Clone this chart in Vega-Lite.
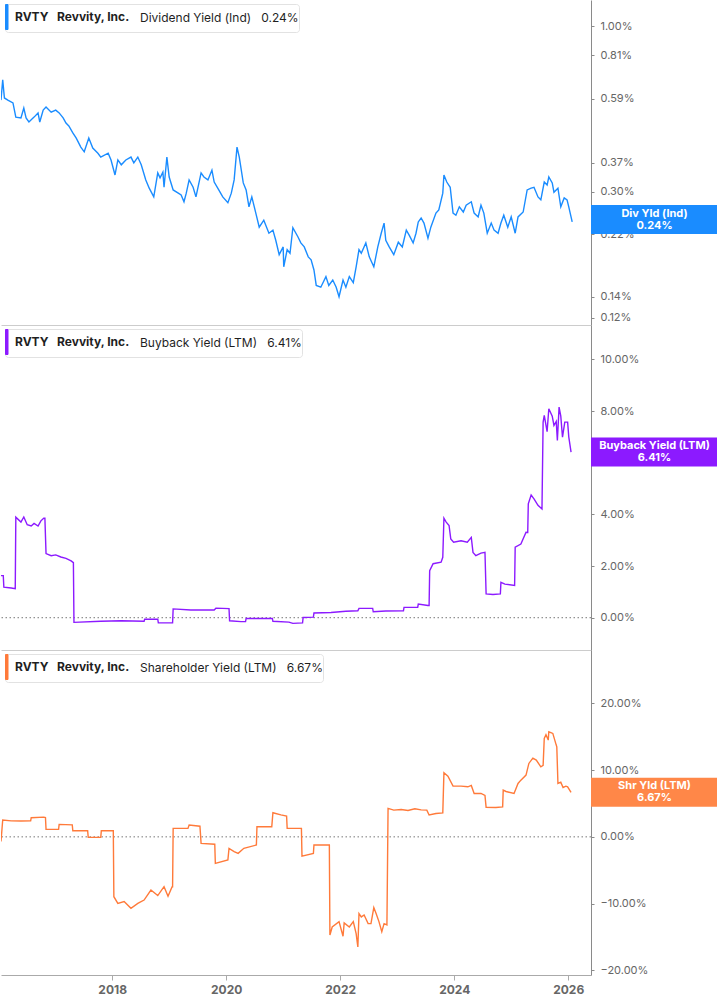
{
  "$schema": "https://vega.github.io/schema/vega-lite/v6.json",
  "padding": 0,
  "spacing": 0,
  "background": "white",
  "config": {
    "font": "Inter",
    "view": {"stroke": null},
    "axis": {"grid": false, "title": null},
    "legend": {
      "orient": "top-left",
      "offset": 4,
      "padding": 0,
      "titleOrient": "right",
      "titlePadding": 10,
      "titleFontSize": 12,
      "titleFontWeight": "normal",
      "titleColor": "#1f1f1f",
      "titleBaseline": "middle",
      "titleLimit": 400,
      "labelFontSize": 12,
      "labelFontWeight": "bold",
      "labelColor": "#1f1f1f",
      "labelLimit": 400,
      "labelOffset": -16,
      "symbolType": "M-1,-1L-0.8,-1L-0.8,1L-1,1Z",
      "symbolSize": 625,
      "symbolStrokeWidth": 1,
      "strokeColor": "#e2e2e2",
      "fillColor": "white",
      "cornerRadius": 3
    }
  },
  "resolve": {
    "scale": {"color": "independent", "y": "independent"},
    "legend": {"color": "independent"}
  },
  "vconcat": [
    {
      "width": 590,
      "height": 325,
      "layer": [
        {
          "data": {
            "values": [
              {"year": 2016.05, "pct": 0.584}, {"year": 2016.08, "pct": 0.676}, {"year": 2016.11, "pct": 0.593}, {"year": 2016.17, "pct": 0.584},
              {"year": 2016.26, "pct": 0.572}, {"year": 2016.31, "pct": 0.516}, {"year": 2016.40, "pct": 0.513}, {"year": 2016.45, "pct": 0.551},
              {"year": 2016.49, "pct": 0.513}, {"year": 2016.54, "pct": 0.498}, {"year": 2016.63, "pct": 0.516}, {"year": 2016.70, "pct": 0.532},
              {"year": 2016.73, "pct": 0.498}, {"year": 2016.79, "pct": 0.543}, {"year": 2016.84, "pct": 0.555}, {"year": 2016.93, "pct": 0.535},
              {"year": 2017.01, "pct": 0.543}, {"year": 2017.07, "pct": 0.532}, {"year": 2017.14, "pct": 0.513}, {"year": 2017.19, "pct": 0.494},
              {"year": 2017.24, "pct": 0.484}, {"year": 2017.31, "pct": 0.46}, {"year": 2017.37, "pct": 0.443}, {"year": 2017.45, "pct": 0.415},
              {"year": 2017.51, "pct": 0.401}, {"year": 2017.59, "pct": 0.443}, {"year": 2017.66, "pct": 0.412}, {"year": 2017.75, "pct": 0.397},
              {"year": 2017.80, "pct": 0.386}, {"year": 2017.93, "pct": 0.397}, {"year": 2017.98, "pct": 0.378}, {"year": 2018.05, "pct": 0.339},
              {"year": 2018.10, "pct": 0.378}, {"year": 2018.16, "pct": 0.365}, {"year": 2018.24, "pct": 0.378}, {"year": 2018.33, "pct": 0.386},
              {"year": 2018.38, "pct": 0.37}, {"year": 2018.45, "pct": 0.386}, {"year": 2018.51, "pct": 0.365}, {"year": 2018.59, "pct": 0.327},
              {"year": 2018.65, "pct": 0.308}, {"year": 2018.73, "pct": 0.289}, {"year": 2018.80, "pct": 0.344}, {"year": 2018.84, "pct": 0.332},
              {"year": 2018.89, "pct": 0.346}, {"year": 2018.91, "pct": 0.31}, {"year": 2018.96, "pct": 0.386}, {"year": 2019.00, "pct": 0.334},
              {"year": 2019.07, "pct": 0.304}, {"year": 2019.16, "pct": 0.297}, {"year": 2019.21, "pct": 0.293}, {"year": 2019.26, "pct": 0.279},
              {"year": 2019.30, "pct": 0.297}, {"year": 2019.35, "pct": 0.327}, {"year": 2019.42, "pct": 0.31}, {"year": 2019.47, "pct": 0.289},
              {"year": 2019.56, "pct": 0.344}, {"year": 2019.61, "pct": 0.334}, {"year": 2019.68, "pct": 0.327}, {"year": 2019.75, "pct": 0.351},
              {"year": 2019.79, "pct": 0.322}, {"year": 2019.87, "pct": 0.304}, {"year": 2019.94, "pct": 0.289}, {"year": 2020.03, "pct": 0.277},
              {"year": 2020.09, "pct": 0.297}, {"year": 2020.14, "pct": 0.327}, {"year": 2020.19, "pct": 0.415}, {"year": 2020.23, "pct": 0.386},
              {"year": 2020.30, "pct": 0.32}, {"year": 2020.35, "pct": 0.304}, {"year": 2020.40, "pct": 0.269}, {"year": 2020.45, "pct": 0.289},
              {"year": 2020.52, "pct": 0.257}, {"year": 2020.58, "pct": 0.232}, {"year": 2020.66, "pct": 0.244}, {"year": 2020.75, "pct": 0.222},
              {"year": 2020.82, "pct": 0.227}, {"year": 2020.87, "pct": 0.211}, {"year": 2020.93, "pct": 0.19}, {"year": 2021.00, "pct": 0.201},
              {"year": 2021.01, "pct": 0.174}, {"year": 2021.07, "pct": 0.197}, {"year": 2021.12, "pct": 0.192}, {"year": 2021.17, "pct": 0.231},
              {"year": 2021.26, "pct": 0.216}, {"year": 2021.31, "pct": 0.207}, {"year": 2021.37, "pct": 0.201}, {"year": 2021.44, "pct": 0.187},
              {"year": 2021.49, "pct": 0.183}, {"year": 2021.54, "pct": 0.17}, {"year": 2021.58, "pct": 0.152}, {"year": 2021.66, "pct": 0.15},
              {"year": 2021.75, "pct": 0.162}, {"year": 2021.80, "pct": 0.152}, {"year": 2021.87, "pct": 0.158}, {"year": 2021.93, "pct": 0.15},
              {"year": 2021.98, "pct": 0.14}, {"year": 2022.05, "pct": 0.158}, {"year": 2022.10, "pct": 0.15}, {"year": 2022.16, "pct": 0.162},
              {"year": 2022.23, "pct": 0.155}, {"year": 2022.28, "pct": 0.174}, {"year": 2022.33, "pct": 0.197}, {"year": 2022.37, "pct": 0.192},
              {"year": 2022.45, "pct": 0.207}, {"year": 2022.51, "pct": 0.187}, {"year": 2022.59, "pct": 0.174}, {"year": 2022.66, "pct": 0.201},
              {"year": 2022.72, "pct": 0.222}, {"year": 2022.77, "pct": 0.239}, {"year": 2022.80, "pct": 0.211}, {"year": 2022.86, "pct": 0.201},
              {"year": 2022.94, "pct": 0.19}, {"year": 2023.02, "pct": 0.208}, {"year": 2023.09, "pct": 0.201}, {"year": 2023.16, "pct": 0.227},
              {"year": 2023.21, "pct": 0.219}, {"year": 2023.28, "pct": 0.207}, {"year": 2023.33, "pct": 0.222}, {"year": 2023.37, "pct": 0.241},
              {"year": 2023.42, "pct": 0.248}, {"year": 2023.47, "pct": 0.239}, {"year": 2023.54, "pct": 0.214}, {"year": 2023.59, "pct": 0.232},
              {"year": 2023.68, "pct": 0.257}, {"year": 2023.73, "pct": 0.263}, {"year": 2023.80, "pct": 0.297}, {"year": 2023.82, "pct": 0.339},
              {"year": 2023.87, "pct": 0.322}, {"year": 2023.93, "pct": 0.31}, {"year": 2023.98, "pct": 0.257}, {"year": 2024.03, "pct": 0.253},
              {"year": 2024.09, "pct": 0.269}, {"year": 2024.16, "pct": 0.259}, {"year": 2024.21, "pct": 0.272}, {"year": 2024.30, "pct": 0.279},
              {"year": 2024.35, "pct": 0.257}, {"year": 2024.42, "pct": 0.25}, {"year": 2024.47, "pct": 0.272}, {"year": 2024.52, "pct": 0.257},
              {"year": 2024.58, "pct": 0.222}, {"year": 2024.65, "pct": 0.239}, {"year": 2024.70, "pct": 0.227}, {"year": 2024.77, "pct": 0.222},
              {"year": 2024.82, "pct": 0.239}, {"year": 2024.87, "pct": 0.253}, {"year": 2024.94, "pct": 0.232}, {"year": 2025.00, "pct": 0.25},
              {"year": 2025.07, "pct": 0.222}, {"year": 2025.12, "pct": 0.25}, {"year": 2025.21, "pct": 0.259}, {"year": 2025.28, "pct": 0.304},
              {"year": 2025.35, "pct": 0.308}, {"year": 2025.40, "pct": 0.31}, {"year": 2025.47, "pct": 0.289}, {"year": 2025.52, "pct": 0.283},
              {"year": 2025.58, "pct": 0.322}, {"year": 2025.63, "pct": 0.315}, {"year": 2025.66, "pct": 0.334}, {"year": 2025.72, "pct": 0.32},
              {"year": 2025.75, "pct": 0.299}, {"year": 2025.82, "pct": 0.308}, {"year": 2025.87, "pct": 0.269}, {"year": 2025.93, "pct": 0.287},
              {"year": 2025.98, "pct": 0.283}, {"year": 2026.01, "pct": 0.269}, {"year": 2026.07, "pct": 0.241}
            ]
          },
          "mark": {"type": "line", "strokeWidth": 1.4, "clip": true},
          "encoding": {
            "x": {
              "field": "year", "type": "quantitative",
              "scale": {"domain": [2016.05, 2026.4], "nice": false, "zero": false},
              "axis": {"labels": false, "ticks": false, "domainColor": "#cccccc"}
            },
            "y": {
              "field": "pct", "type": "quantitative",
              "scale": {"type": "log", "domain": [0.114, 1.208], "nice": false},
              "axis": {
                "orient": "right",
                "values": [0.12, 0.14, 0.22, 0.30, 0.37, 0.59, 0.81, 1.0],
                "labelExpr": "format(datum.value, '.2f') + '%'",
                "domainColor": "#8a8a8a", "tickColor": "#8a8a8a", "tickSize": 3,
                "labelPadding": 6, "labelFontSize": 11, "labelColor": "#666666"
              }
            },
            "color": {
              "datum": "RVTY\u00a0\u00a0\u00a0Revvity, Inc.",
              "type": "nominal",
              "scale": {"range": ["#1a8cff"]},
              "legend": {"title": "Dividend Yield (Ind)\u00a0\u00a0\u00a00.24%\u00a0\u00a0", "symbolFillColor": "#1a8cff"}
            }
          }
        },
        {
          "data": {"values": [{"pct": 0.24}]},
          "mark": {"type": "rect", "color": "#1a8cff", "x2Offset": 127, "yOffset": -17.5, "y2Offset": 11.5},
          "encoding": {
            "x": {"datum": 2026.4, "type": "quantitative"},
            "x2": {"datum": 2026.4},
            "y": {"field": "pct", "type": "quantitative"},
            "y2": {"field": "pct"}
          }
        },
        {
          "data": {"values": [{"pct": 0.24}]},
          "mark": {"type": "text", "dx": 63.5, "dy": -9, "align": "center", "baseline": "middle", "fontSize": 11, "fontWeight": "bold", "color": "white", "lineHeight": 12},
          "encoding": {
            "x": {"datum": 2026.4, "type": "quantitative"},
            "y": {"field": "pct", "type": "quantitative"},
            "text": {"value": ["Div Yld (Ind)", "0.24%"]}
          }
        }
      ]
    },
    {
      "width": 590,
      "height": 325,
      "layer": [
        {
          "data": {"values": [{}]},
          "mark": {"type": "rule", "strokeDash": [1.5, 2.5], "color": "#777777", "strokeWidth": 1},
          "encoding": {"y": {"datum": 0, "type": "quantitative"}}
        },
        {
          "data": {
            "values": [
              {"year": 2016.05, "pct": 1.63}, {"year": 2016.09, "pct": 1.63}, {"year": 2016.10, "pct": 1.18}, {"year": 2016.23, "pct": 1.15},
              {"year": 2016.30, "pct": 1.12}, {"year": 2016.31, "pct": 3.89}, {"year": 2016.40, "pct": 3.7}, {"year": 2016.45, "pct": 3.9},
              {"year": 2016.51, "pct": 3.6}, {"year": 2016.58, "pct": 3.55}, {"year": 2016.63, "pct": 3.65}, {"year": 2016.70, "pct": 3.55},
              {"year": 2016.75, "pct": 3.75}, {"year": 2016.80, "pct": 3.85}, {"year": 2016.82, "pct": 3.85}, {"year": 2016.84, "pct": 2.48},
              {"year": 2016.93, "pct": 2.4}, {"year": 2017.01, "pct": 2.43}, {"year": 2017.10, "pct": 2.35}, {"year": 2017.19, "pct": 2.3},
              {"year": 2017.28, "pct": 2.2}, {"year": 2017.32, "pct": 2.13}, {"year": 2017.33, "pct": -0.18}, {"year": 2017.80, "pct": -0.14},
              {"year": 2018.16, "pct": -0.12}, {"year": 2018.56, "pct": -0.14}, {"year": 2018.57, "pct": -0.06}, {"year": 2018.80, "pct": -0.06},
              {"year": 2018.81, "pct": -0.2}, {"year": 2019.06, "pct": -0.2}, {"year": 2019.07, "pct": 0.34}, {"year": 2019.38, "pct": 0.3},
              {"year": 2019.79, "pct": 0.3}, {"year": 2019.82, "pct": 0.37}, {"year": 2020.05, "pct": 0.35}, {"year": 2020.06, "pct": -0.12},
              {"year": 2020.26, "pct": -0.15}, {"year": 2020.34, "pct": -0.15}, {"year": 2020.35, "pct": -0.03}, {"year": 2020.81, "pct": -0.03},
              {"year": 2020.82, "pct": -0.14}, {"year": 2021.10, "pct": -0.17}, {"year": 2021.17, "pct": -0.22}, {"year": 2021.34, "pct": -0.2},
              {"year": 2021.35, "pct": 0.01}, {"year": 2021.53, "pct": 0.02}, {"year": 2021.54, "pct": 0.18}, {"year": 2021.84, "pct": 0.2},
              {"year": 2022.10, "pct": 0.25}, {"year": 2022.31, "pct": 0.27}, {"year": 2022.33, "pct": 0.36}, {"year": 2022.57, "pct": 0.36},
              {"year": 2022.58, "pct": 0.23}, {"year": 2022.80, "pct": 0.26}, {"year": 2023.11, "pct": 0.27}, {"year": 2023.12, "pct": 0.4},
              {"year": 2023.36, "pct": 0.4}, {"year": 2023.37, "pct": 0.53}, {"year": 2023.54, "pct": 0.47}, {"year": 2023.56, "pct": 0.47},
              {"year": 2023.57, "pct": 1.82}, {"year": 2023.63, "pct": 2.09}, {"year": 2023.77, "pct": 2.15}, {"year": 2023.80, "pct": 2.34},
              {"year": 2023.82, "pct": 3.85}, {"year": 2023.86, "pct": 3.7}, {"year": 2023.91, "pct": 3.57}, {"year": 2023.94, "pct": 3.05},
              {"year": 2023.99, "pct": 2.92}, {"year": 2024.12, "pct": 2.98}, {"year": 2024.23, "pct": 2.92}, {"year": 2024.30, "pct": 3.11},
              {"year": 2024.33, "pct": 2.53}, {"year": 2024.38, "pct": 2.4}, {"year": 2024.47, "pct": 2.5}, {"year": 2024.54, "pct": 2.53},
              {"year": 2024.56, "pct": 0.92}, {"year": 2024.68, "pct": 0.9}, {"year": 2024.81, "pct": 0.92}, {"year": 2024.82, "pct": 1.37},
              {"year": 2024.89, "pct": 1.3}, {"year": 2025.06, "pct": 1.25}, {"year": 2025.07, "pct": 2.73}, {"year": 2025.17, "pct": 2.85},
              {"year": 2025.26, "pct": 3.31}, {"year": 2025.29, "pct": 3.3}, {"year": 2025.30, "pct": 4.41}, {"year": 2025.35, "pct": 4.75},
              {"year": 2025.40, "pct": 4.6}, {"year": 2025.47, "pct": 4.35}, {"year": 2025.54, "pct": 4.21}, {"year": 2025.56, "pct": 7.57},
              {"year": 2025.58, "pct": 7.83}, {"year": 2025.63, "pct": 7.2}, {"year": 2025.66, "pct": 8.09}, {"year": 2025.72, "pct": 7.8},
              {"year": 2025.75, "pct": 7.44}, {"year": 2025.79, "pct": 7.6}, {"year": 2025.81, "pct": 6.86}, {"year": 2025.84, "pct": 8.15},
              {"year": 2025.87, "pct": 7.8}, {"year": 2025.90, "pct": 6.99}, {"year": 2025.94, "pct": 7.57}, {"year": 2025.99, "pct": 7.57},
              {"year": 2026.01, "pct": 7.0}, {"year": 2026.05, "pct": 6.41}
            ]
          },
          "mark": {"type": "line", "strokeWidth": 1.4, "clip": true},
          "encoding": {
            "x": {
              "field": "year", "type": "quantitative",
              "scale": {"domain": [2016.05, 2026.4], "nice": false, "zero": false},
              "axis": {"labels": false, "ticks": false, "domainColor": "#cccccc"}
            },
            "y": {
              "field": "pct", "type": "quantitative",
              "scale": {"domain": [-1.25, 11.33], "nice": false, "zero": false},
              "axis": {
                "orient": "right",
                "values": [0, 2, 4, 6, 8, 10],
                "labelExpr": "format(datum.value, '.2f') + '%'",
                "domainColor": "#8a8a8a", "tickColor": "#8a8a8a", "tickSize": 3,
                "labelPadding": 6, "labelFontSize": 11, "labelColor": "#666666"
              }
            },
            "color": {
              "datum": "RVTY\u00a0\u00a0\u00a0Revvity, Inc.",
              "type": "nominal",
              "scale": {"range": ["#8c1aff"]},
              "legend": {"title": "Buyback Yield (LTM)\u00a0\u00a0\u00a06.41%\u00a0\u00a0", "symbolFillColor": "#8c1aff"}
            }
          }
        },
        {
          "data": {"values": [{"pct": 6.41}]},
          "mark": {"type": "rect", "color": "#8c1aff", "x2Offset": 127, "yOffset": -14.5, "y2Offset": 14.5},
          "encoding": {
            "x": {"datum": 2026.4, "type": "quantitative"},
            "x2": {"datum": 2026.4},
            "y": {"field": "pct", "type": "quantitative"},
            "y2": {"field": "pct"}
          }
        },
        {
          "data": {"values": [{"pct": 6.41}]},
          "mark": {"type": "text", "dx": 63.5, "dy": -6, "align": "center", "baseline": "middle", "fontSize": 11, "fontWeight": "bold", "color": "white", "lineHeight": 12},
          "encoding": {
            "x": {"datum": 2026.4, "type": "quantitative"},
            "y": {"field": "pct", "type": "quantitative"},
            "text": {"value": ["Buyback Yield (LTM)", "6.41%"]}
          }
        }
      ]
    },
    {
      "width": 590,
      "height": 325,
      "layer": [
        {
          "data": {"values": [{}]},
          "mark": {"type": "rule", "strokeDash": [1.5, 2.5], "color": "#777777", "strokeWidth": 1},
          "encoding": {"y": {"datum": 0, "type": "quantitative"}}
        },
        {
          "data": {
            "values": [
              {"year": 2016.05, "pct": -0.7}, {"year": 2016.08, "pct": 2.52}, {"year": 2016.23, "pct": 2.4}, {"year": 2016.40, "pct": 2.37},
              {"year": 2016.57, "pct": 2.4}, {"year": 2016.58, "pct": 2.86}, {"year": 2016.80, "pct": 2.95}, {"year": 2016.83, "pct": 2.9},
              {"year": 2016.84, "pct": 1.12}, {"year": 2017.06, "pct": 1.12}, {"year": 2017.07, "pct": 1.87}, {"year": 2017.30, "pct": 1.8},
              {"year": 2017.31, "pct": 0.92}, {"year": 2017.57, "pct": 0.92}, {"year": 2017.58, "pct": -0.08}, {"year": 2017.80, "pct": -0.08},
              {"year": 2017.81, "pct": 0.92}, {"year": 2018.02, "pct": 0.92}, {"year": 2018.03, "pct": -8.97}, {"year": 2018.10, "pct": -9.97},
              {"year": 2018.21, "pct": -9.7}, {"year": 2018.33, "pct": -10.7}, {"year": 2018.45, "pct": -9.97}, {"year": 2018.56, "pct": -9.47},
              {"year": 2018.68, "pct": -7.97}, {"year": 2018.80, "pct": -8.8}, {"year": 2018.91, "pct": -7.47}, {"year": 2018.98, "pct": -8.9},
              {"year": 2019.05, "pct": -7.5}, {"year": 2019.06, "pct": -7.5}, {"year": 2019.07, "pct": 1.27}, {"year": 2019.33, "pct": 1.27},
              {"year": 2019.35, "pct": 1.77}, {"year": 2019.54, "pct": 1.6}, {"year": 2019.56, "pct": -0.97}, {"year": 2019.80, "pct": -1.1},
              {"year": 2019.81, "pct": -3.97}, {"year": 2020.03, "pct": -3.47}, {"year": 2020.05, "pct": -1.72}, {"year": 2020.14, "pct": -2.2},
              {"year": 2020.21, "pct": -2.47}, {"year": 2020.31, "pct": -1.72}, {"year": 2020.53, "pct": -1.22}, {"year": 2020.54, "pct": 1.52},
              {"year": 2020.80, "pct": 1.52}, {"year": 2020.82, "pct": 3.62}, {"year": 2020.96, "pct": 3.3}, {"year": 2021.06, "pct": 3.1},
              {"year": 2021.07, "pct": 1.27}, {"year": 2021.32, "pct": 1.27}, {"year": 2021.33, "pct": -2.88}, {"year": 2021.53, "pct": -2.5},
              {"year": 2021.54, "pct": -1.22}, {"year": 2021.81, "pct": -1.22}, {"year": 2021.82, "pct": -14.7}, {"year": 2021.86, "pct": -13.5},
              {"year": 2021.98, "pct": -12.7}, {"year": 2022.05, "pct": -14.9}, {"year": 2022.07, "pct": -12.9}, {"year": 2022.16, "pct": -13.5},
              {"year": 2022.23, "pct": -12.7}, {"year": 2022.28, "pct": -14.5}, {"year": 2022.31, "pct": -16.5}, {"year": 2022.33, "pct": -11.5},
              {"year": 2022.37, "pct": -12.0}, {"year": 2022.42, "pct": -11.7}, {"year": 2022.49, "pct": -13.0}, {"year": 2022.54, "pct": -13.0},
              {"year": 2022.59, "pct": -10.6}, {"year": 2022.63, "pct": -11.5}, {"year": 2022.68, "pct": -12.7}, {"year": 2022.73, "pct": -14.2},
              {"year": 2022.77, "pct": -13.0}, {"year": 2022.82, "pct": -13.2}, {"year": 2022.84, "pct": 4.27}, {"year": 2022.94, "pct": 4.0},
              {"year": 2023.07, "pct": 4.1}, {"year": 2023.19, "pct": 3.95}, {"year": 2023.31, "pct": 4.2}, {"year": 2023.42, "pct": 4.05},
              {"year": 2023.52, "pct": 4.0}, {"year": 2023.56, "pct": 3.27}, {"year": 2023.68, "pct": 3.5}, {"year": 2023.80, "pct": 3.6},
              {"year": 2023.82, "pct": 9.6}, {"year": 2023.89, "pct": 9.1}, {"year": 2023.98, "pct": 7.6}, {"year": 2024.12, "pct": 7.6},
              {"year": 2024.24, "pct": 7.5}, {"year": 2024.30, "pct": 7.7}, {"year": 2024.35, "pct": 6.5}, {"year": 2024.47, "pct": 6.5},
              {"year": 2024.54, "pct": 6.2}, {"year": 2024.56, "pct": 4.42}, {"year": 2024.73, "pct": 4.4}, {"year": 2024.85, "pct": 4.5},
              {"year": 2024.86, "pct": 7.0}, {"year": 2024.91, "pct": 6.8}, {"year": 2025.05, "pct": 6.5}, {"year": 2025.12, "pct": 8.0},
              {"year": 2025.17, "pct": 8.5}, {"year": 2025.26, "pct": 9.26}, {"year": 2025.31, "pct": 11.0}, {"year": 2025.38, "pct": 11.8},
              {"year": 2025.44, "pct": 11.5}, {"year": 2025.52, "pct": 10.5}, {"year": 2025.56, "pct": 10.7}, {"year": 2025.58, "pct": 14.75},
              {"year": 2025.61, "pct": 15.3}, {"year": 2025.65, "pct": 14.5}, {"year": 2025.66, "pct": 15.75}, {"year": 2025.73, "pct": 15.5},
              {"year": 2025.79, "pct": 13.75}, {"year": 2025.80, "pct": 13.5}, {"year": 2025.82, "pct": 8.0}, {"year": 2025.87, "pct": 8.2},
              {"year": 2025.91, "pct": 7.4}, {"year": 2025.96, "pct": 7.6}, {"year": 2025.99, "pct": 7.5}, {"year": 2026.05, "pct": 6.67}
            ]
          },
          "mark": {"type": "line", "strokeWidth": 1.4, "clip": true},
          "encoding": {
            "x": {
              "field": "year", "type": "quantitative",
              "scale": {"domain": [2016.05, 2026.4], "nice": false, "zero": false},
              "axis": {
                "values": [2018, 2020, 2022, 2024, 2026], "format": "d",
                "labelFontWeight": "bold", "labelFontSize": 12, "labelColor": "#666666",
                "tickSize": 5, "tickColor": "#aaaaaa", "domainColor": "#aaaaaa", "labelPadding": 4
              }
            },
            "y": {
              "field": "pct", "type": "quantitative",
              "scale": {"domain": [-20.7, 28.0], "nice": false, "zero": false},
              "axis": {
                "orient": "right",
                "values": [-20, -10, 0, 10, 20],
                "labelExpr": "format(datum.value, '.2f') + '%'",
                "domainColor": "#8a8a8a", "tickColor": "#8a8a8a", "tickSize": 3,
                "labelPadding": 6, "labelFontSize": 11, "labelColor": "#666666"
              }
            },
            "color": {
              "datum": "RVTY\u00a0\u00a0\u00a0Revvity, Inc.",
              "type": "nominal",
              "scale": {"range": ["#ff7a3a"]},
              "legend": {"title": "Shareholder Yield (LTM)\u00a0\u00a0\u00a06.67%\u00a0\u00a0", "symbolFillColor": "#ff7a3a"}
            }
          }
        },
        {
          "data": {"values": [{"pct": 6.67}]},
          "mark": {"type": "rect", "color": "#ff8748", "x2Offset": 127, "yOffset": -14.5, "y2Offset": 14.5},
          "encoding": {
            "x": {"datum": 2026.4, "type": "quantitative"},
            "x2": {"datum": 2026.4},
            "y": {"field": "pct", "type": "quantitative"},
            "y2": {"field": "pct"}
          }
        },
        {
          "data": {"values": [{"pct": 6.67}]},
          "mark": {"type": "text", "dx": 63.5, "dy": -6, "align": "center", "baseline": "middle", "fontSize": 11, "fontWeight": "bold", "color": "white", "lineHeight": 12},
          "encoding": {
            "x": {"datum": 2026.4, "type": "quantitative"},
            "y": {"field": "pct", "type": "quantitative"},
            "text": {"value": ["Shr Yld (LTM)", "6.67%"]}
          }
        }
      ]
    }
  ]
}
